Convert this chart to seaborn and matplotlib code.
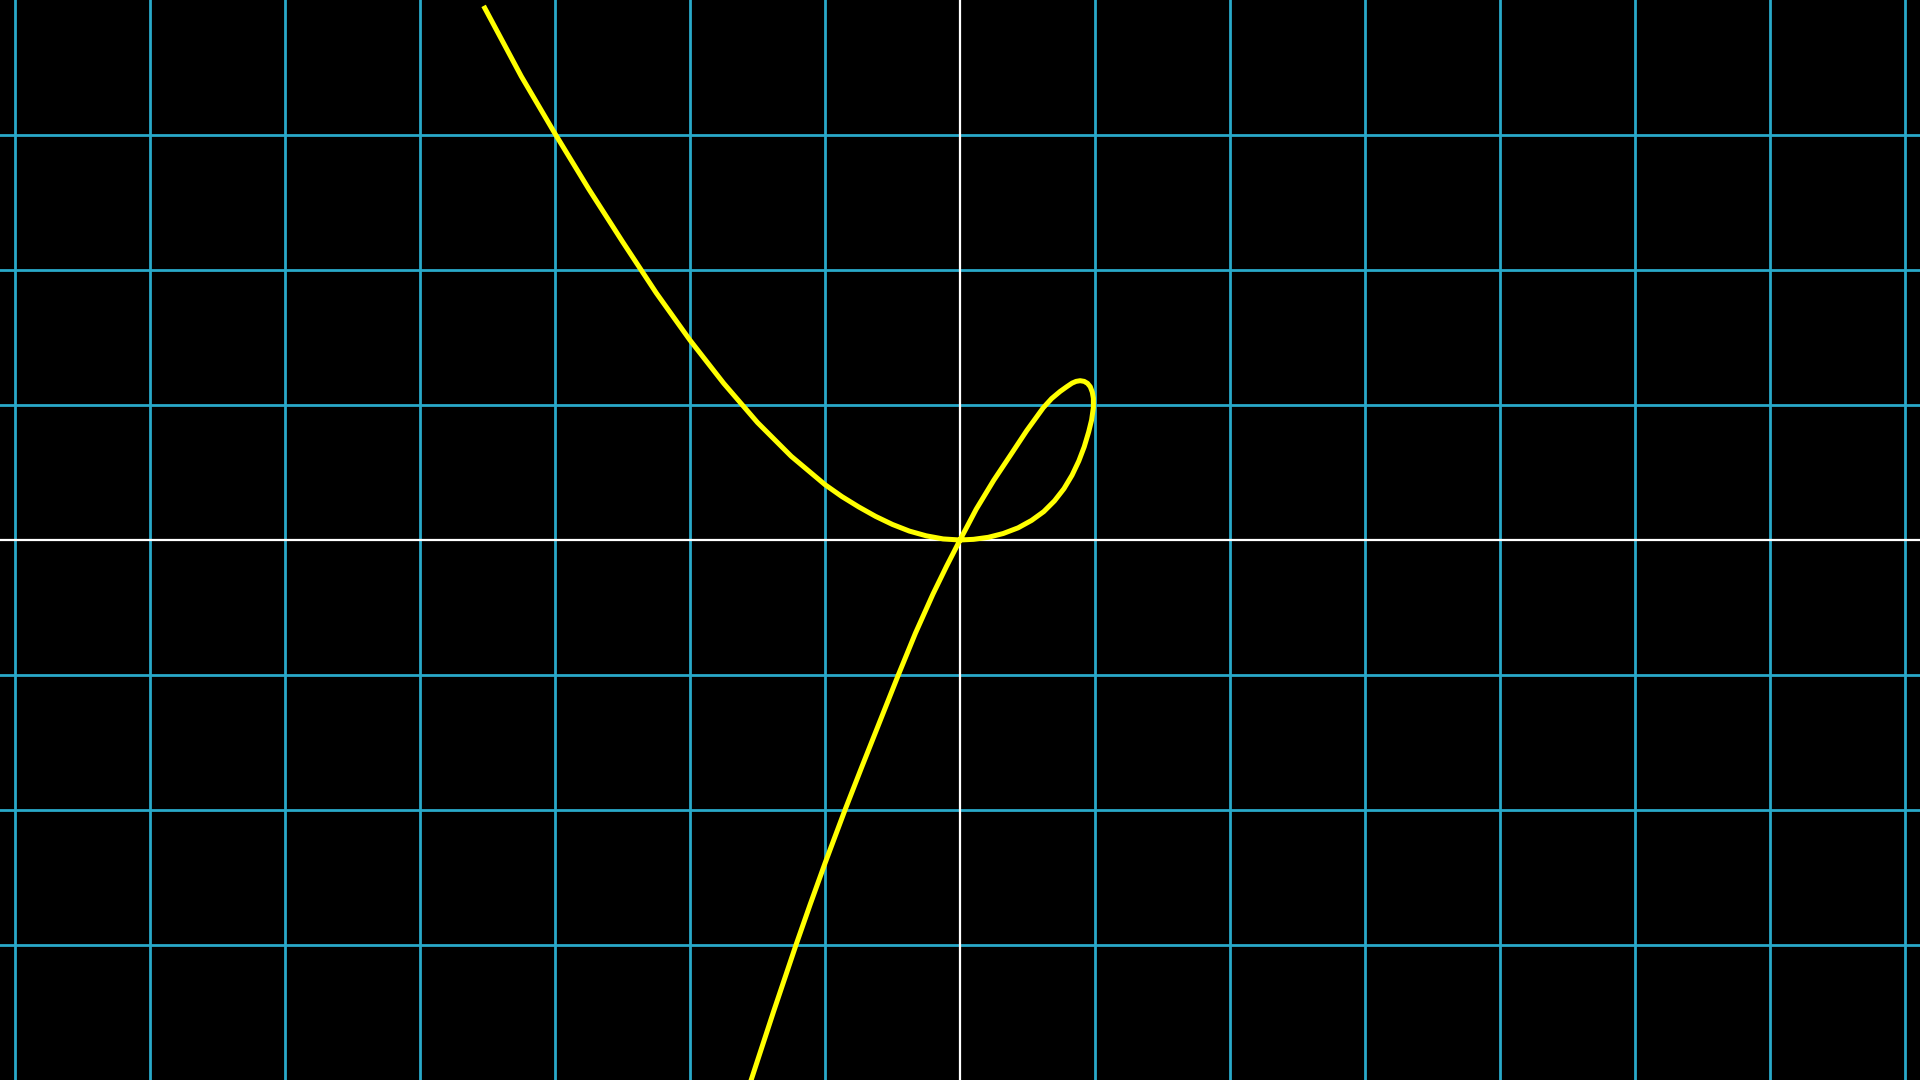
import numpy as np
import pandas as pd
import matplotlib
matplotlib.use("Agg")
import matplotlib.pyplot as plt
import seaborn as sns

# curve points, in drawing order
# upper-left branch -> origin
upper_x = [-3.52, -3.25, -3.00, -2.75, -2.50, -2.25, -2.00, -1.75, -1.50,
           -1.25, -1.00, -0.875, -0.75, -0.625, -0.50, -0.375, -0.25, -0.125,
           0.00]
upper_y = [3.94, 3.435, 3.01, 2.60, 2.21, 1.83, 1.48, 1.16, 0.87,
           0.62, 0.41, 0.322, 0.245, 0.175, 0.115, 0.066, 0.031, 0.008,
           0.00]
# loop: origin -> right side -> top -> steep side -> origin
loop_x = [0.10, 0.21, 0.32, 0.43, 0.53, 0.62, 0.70, 0.77, 0.83, 0.88, 0.92,
          0.953, 0.975, 0.988, 0.988, 0.98, 0.965, 0.945, 0.92, 0.89, 0.86,
          0.83, 0.79, 0.741, 0.679, 0.617, 0.494, 0.37, 0.25, 0.12, 0.00]
loop_y = [0.005, 0.02, 0.048, 0.09, 0.145, 0.21, 0.29, 0.38, 0.48, 0.585, 0.69,
          0.80, 0.89, 0.98, 1.05, 1.095, 1.135, 1.16, 1.175, 1.18, 1.175,
          1.162, 1.135, 1.10, 1.048, 0.98, 0.81, 0.6225, 0.4425, 0.228, 0.00]
# lower branch: origin -> bottom edge
lower_x = [-0.10, -0.20, -0.33, -0.457, -0.60, -0.727, -0.852, -1.00,
           -1.11, -1.215, -1.38, -1.547]
lower_y = [-0.195, -0.40, -0.69, -1.00, -1.36, -1.68, -2.00, -2.395,
           -2.70, -3.00, -3.49, -4.00]

grid_x = list(range(-7, 8))
grid_y = list(range(-3, 4))

curve_x = upper_x + loop_x + lower_x
curve_y = upper_y + loop_y + lower_y
df = pd.DataFrame({"x": curve_x, "y": curve_y})

fig = plt.figure(figsize=(19.2, 10.8), dpi=100, facecolor="black")
ax = fig.add_axes([0, 0, 1, 1])
ax.set_facecolor("black")

# сетка
for gx in grid_x:
    if gx != 0:
        ax.axvline(gx, color="#29a9c9", lw=2.0, zorder=1)
for gy in grid_y:
    if gy != 0:
        ax.axhline(gy, color="#29a9c9", lw=2.0, zorder=1)
ax.axvline(0, color="white", lw=1.6, zorder=2)
ax.axhline(0, color="white", lw=1.6, zorder=2)

sns.lineplot(data=df, x="x", y="y", sort=False, estimator=None,
             color="#ffff00", lw=3.6, ax=ax, zorder=3)
ax.lines[-1].set_solid_joinstyle("round")

ax.set_xlim(-960 / 135, 960 / 135)
ax.set_ylim(-4, 4)
ax.set_xlabel("")
ax.set_ylabel("")
ax.set_xticks([])
ax.set_yticks([])
for s in ax.spines.values():
    s.set_visible(False)

fig.savefig("out.png", dpi=100, facecolor="black")
